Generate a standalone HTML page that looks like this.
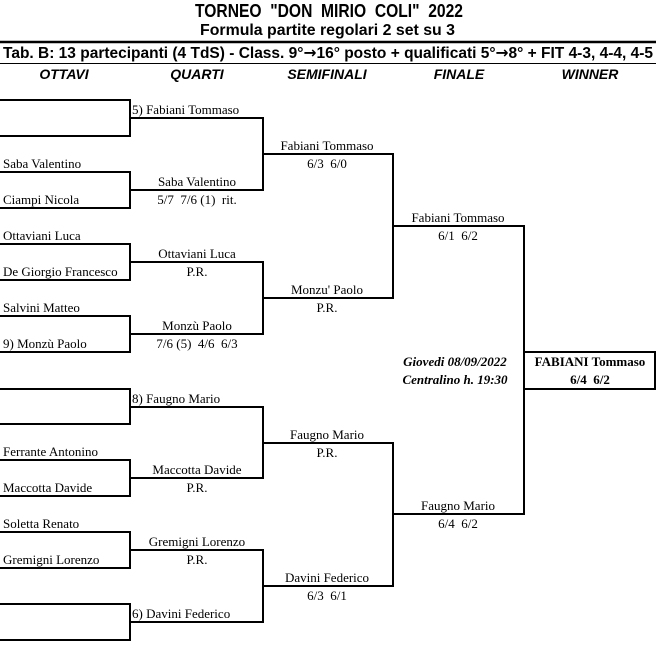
<!DOCTYPE html>
<html><head><meta charset="utf-8">
<style>
html,body{margin:0;padding:0;background:#fff;}
svg{display:block;}
text{white-space:pre;}
.h{font-family:"Liberation Sans",Arial,sans-serif;font-weight:bold;}
.n{font-family:"Liberation Serif","Times New Roman",serif;font-size:13px;fill:#000;}
.ar{font-family:"DejaVu Sans",sans-serif;}
</style></head>
<body>
<svg width="656" height="659" viewBox="0 0 656 659" xmlns="http://www.w3.org/2000/svg" xml:space="preserve">
<rect width="656" height="659" fill="#fff"/>
<text class="h" x="195" y="17" font-size="18" textLength="268" lengthAdjust="spacingAndGlyphs">TORNEO  "DON  MIRIO  COLI"  2022</text>
<text class="h" x="200" y="35" font-size="16" textLength="255" lengthAdjust="spacingAndGlyphs">Formula partite regolari 2 set su 3</text>
<line x1="0" y1="42" x2="656" y2="42" stroke="#000" stroke-width="2.5"/>
<text class="h" x="3" y="58" font-size="16" textLength="650" lengthAdjust="spacingAndGlyphs">Tab. B: 13 partecipanti (4 TdS) - Class. 9°<tspan class="ar">→</tspan>16° posto + qualificati 5°<tspan class="ar">→</tspan>8° + FIT 4-3, 4-4, 4-5</text>
<line x1="0" y1="63.5" x2="656" y2="63.5" stroke="#000" stroke-width="1"/>
<g class="h" font-size="14" font-style="italic" text-anchor="middle">
<text x="64" y="79">OTTAVI</text>
<text x="197" y="79">QUARTI</text>
<text x="327" y="79">SEMIFINALI</text>
<text x="459" y="79">FINALE</text>
<text x="590" y="79">WINNER</text>
</g>
<g fill="none" stroke="#000" stroke-width="2">
<path d="M0 100H130V136H0"/>
<path d="M0 172H130V208H0"/>
<path d="M0 244H130V280H0"/>
<path d="M0 316H130V352H0"/>
<path d="M0 389H130V424H0"/>
<path d="M0 460H130V496H0"/>
<path d="M0 532H130V568H0"/>
<path d="M0 604H130V640H0"/>
<path d="M130 118H263V190H130"/>
<path d="M130 262H263V334H130"/>
<path d="M130 407H263V478H130"/>
<path d="M130 550H263V622H130"/>
<path d="M263 154H393V298H263"/>
<path d="M263 443H393V586H263"/>
<path d="M393 226H524V514H393"/>
<path d="M524 352H655V389H524"/>
</g>
<g class="n">
<text x="132" y="114">5) Fabiani Tommaso</text>
<text x="3" y="168">Saba Valentino</text>
<text x="3" y="204">Ciampi Nicola</text>
<text x="3" y="240">Ottaviani Luca</text>
<text x="3" y="276">De Giorgio Francesco</text>
<text x="3" y="312">Salvini Matteo</text>
<text x="3" y="348">9) Monzù Paolo</text>
<text x="132" y="403">8) Faugno Mario</text>
<text x="3" y="456">Ferrante Antonino</text>
<text x="3" y="492">Maccotta Davide</text>
<text x="3" y="528">Soletta Renato</text>
<text x="3" y="564">Gremigni Lorenzo</text>
<text x="132" y="618">6) Davini Federico</text>
</g>
<g class="n" text-anchor="middle">
<text x="197" y="186">Saba Valentino</text>
<text x="197" y="204">5/7  7/6 (1)  rit.</text>
<text x="197" y="258">Ottaviani Luca</text>
<text x="197" y="276">P.R.</text>
<text x="197" y="330">Monzù Paolo</text>
<text x="197" y="348">7/6 (5)  4/6  6/3</text>
<text x="197" y="474">Maccotta Davide</text>
<text x="197" y="492">P.R.</text>
<text x="197" y="546">Gremigni Lorenzo</text>
<text x="197" y="564">P.R.</text>
<text x="327" y="150">Fabiani Tommaso</text>
<text x="327" y="168">6/3  6/0</text>
<text x="327" y="294">Monzu' Paolo</text>
<text x="327" y="312">P.R.</text>
<text x="327" y="439">Faugno Mario</text>
<text x="327" y="457">P.R.</text>
<text x="327" y="582">Davini Federico</text>
<text x="327" y="600">6/3  6/1</text>
<text x="458" y="222">Fabiani Tommaso</text>
<text x="458" y="240">6/1  6/2</text>
<text x="458" y="510">Faugno Mario</text>
<text x="458" y="528">6/4  6/2</text>
<text x="455" y="366" font-style="italic" font-weight="bold">Giovedi 08/09/2022</text>
<text x="455" y="384" font-style="italic" font-weight="bold">Centralino h. 19:30</text>
<text x="590" y="366" font-weight="bold">FABIANI Tommaso</text>
<text x="590" y="384" font-weight="bold">6/4  6/2</text>
</g>
</svg>
</body></html>
